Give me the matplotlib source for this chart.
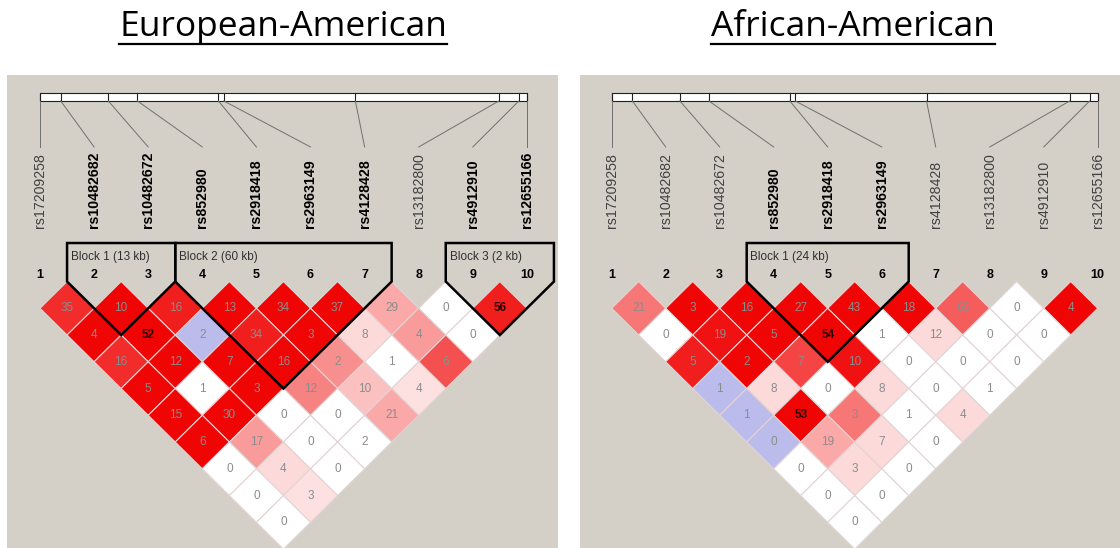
import numpy as np
import matplotlib.pyplot as plt
from matplotlib.patches import Polygon, Rectangle
from matplotlib.lines import Line2D

plt.rcParams['font.family'] = ['Liberation Sans', 'DejaVu Sans']

# SNPs and their map positions (kb)
snps = ["rs17209258", "rs10482682", "rs10482672", "rs852980", "rs2918418",
        "rs2963149", "rs4128428", "rs13182800", "rs4912910", "rs12655166"]
snp_kb = [0, 5.7, 18.8, 26.8, 49.1, 50.6, 86.8, 126.3, 131.8, 134.0]

# European-American: r2 x100 per diagonal row (row 1 = adjacent pairs)
ea_r2 = [[35, 10, 16, 13, 34, 37, 29, 0, 56],
         [4, 52, 2, 34, 3, 8, 4, 0],
         [16, 12, 7, 16, 2, 1, 6],
         [5, 1, 3, 12, 10, 4],
         [15, 30, 0, 0, 21],
         [6, 17, 0, 2],
         [0, 4, 0],
         [0, 3],
         [0]]
# colour shade (D' strength), -1 = D'=1 with low LOD (blue)
ea_shade = [[0.85, 1, 0.9, 1, 1, 1, 0.35, 0, 0.9],
            [1, 1, -1, 0.9, 1, 0.15, 0.4, 0],
            [0.85, 1, 1, 1, 0.45, 0, 0.7],
            [1, 0, 1, 0.5, 0.25, 0.12],
            [1, 1, 0, 0, 0.35],
            [1, 0.4, 0, 0],
            [0, 0.15, 0],
            [0, 0.12],
            [0]]
ea_bold = [2, 3, 4, 5, 6, 7, 9, 10]
ea_dark = [(2, 4), (9, 10)]
ea_blocks = [(2, 3, "Block 1 (13 kb)"), (4, 7, "Block 2 (60 kb)"), (9, 10, "Block 3 (2 kb)")]

# African-American
aa_r2 = [[21, 3, 16, 27, 43, 18, 66, 0, 4],
         [0, 19, 5, 54, 1, 12, 0, 0],
         [5, 2, 7, 10, 0, 0, 0],
         [1, 8, 0, 8, 0, 1],
         [1, 53, 3, 1, 4],
         [0, 19, 7, 0],
         [0, 3, 0],
         [0, 0],
         [0]]
aa_shade = [[0.55, 1, 1, 1, 1, 1, 0.65, 0, 1],
            [0, 0.95, 1, 1, 0, 0.15, 0, 0],
            [0.9, 1, 0.75, 0.95, 0, 0, 0],
            [-1, 0.15, 0, 0.15, 0, 0],
            [-1, 1, 0.55, 0, 0.15],
            [-1, 0.35, 0.15, 0],
            [0, 0.15, 0],
            [0, 0],
            [0]]
aa_bold = [4, 5, 6]
aa_dark = [(4, 6), (2, 7)]
aa_blocks = [(4, 6, "Block 1 (24 kb)")]

bg = "#d4d0c8"
red = np.array([0.94, 0.02, 0.02])
blue = "#bcbcec"


def cell_color(s):
    if s < 0:
        return blue
    return tuple(1 - s * (1 - red))


def draw_panel(ax, r2, shade, bold, dark, blocks, xlim):
    n = len(snps)
    ax.set_facecolor(bg)
    ax.set_xlim(xlim)
    ax.set_ylim(9.96, -7.72)
    ax.set_xticks([])
    ax.set_yticks([])
    for s in ax.spines.values():
        s.set_visible(False)

    # marker map bar
    bar_top, bar_bot = -7.05, -6.75
    ax.add_patch(Rectangle((1, bar_top), n - 1, bar_bot - bar_top,
                           facecolor="white", edgecolor="#202020", lw=0.8))
    for k in range(n):
        xk = 1 + (n - 1) * snp_kb[k] / snp_kb[-1]
        ax.plot([xk, xk], [bar_top, bar_bot], color="#202020", lw=0.8)
        ax.plot([xk, k + 1], [bar_bot, -5.03], color="#707070", lw=0.7)
        is_bold = (k + 1) in bold
        ax.text(k + 1, -2.0, snps[k], rotation=90, ha="center", va="bottom",
                fontsize=10.2, fontweight="bold" if is_bold else "normal",
                color="black" if is_bold else "#404040")
        ax.text(k + 1, -0.245, str(k + 1), ha="center", va="center",
                fontsize=9, fontweight="bold")

    # LD diamonds
    for d in range(1, n):
        for i in range(1, n - d + 1):
            j = i + d
            cx, cy = (i + j) / 2, d
            verts = [(cx - 0.5, cy), (cx, cy - 1), (cx + 0.5, cy), (cx, cy + 1)]
            ax.add_patch(Polygon(verts, closed=True,
                                 facecolor=cell_color(shade[d - 1][i - 1]),
                                 edgecolor="#e2d4d4", lw=0.8))
            if (i, j) in dark:
                ax.text(cx, cy, str(r2[d - 1][i - 1]), ha="center", va="center",
                        fontsize=8.5, fontweight="bold", color="#2a0000")
            else:
                ax.text(cx, cy, str(r2[d - 1][i - 1]), ha="center", va="center",
                        fontsize=8.5, color="#8c8c8c")

    # haplotype block outlines
    top = -1.44
    for first, last, label in blocks:
        x0, x1 = first - 0.5, last + 0.5
        apex = ((first + last) / 2, last - first + 1)
        ax.add_patch(Polygon([(x0, top), (x0, 0), apex, (x1, 0), (x1, top)],
                             closed=True, fill=False, edgecolor="black", lw=1.8))
        ax.text(x0 + 0.07, top + 0.52, label, ha="left", va="center",
                fontsize=8.5, color="#303030")


fig = plt.figure(figsize=(11.2, 5.48), dpi=100)
fig.patch.set_facecolor("white")

ax1 = fig.add_axes([7 / 1120, 0, 551 / 1120, 473 / 548])
ax2 = fig.add_axes([580 / 1120, 0, 540 / 1120, 473 / 548])

draw_panel(ax1, ea_r2, ea_shade, ea_bold, ea_dark, ea_blocks, (0.39, 10.575))
draw_panel(ax2, aa_r2, aa_shade, aa_bold, aa_dark, aa_blocks, (0.413, 10.413))

# underlined titles
titles = []
titles.append(fig.text(283 / 1120, 1 - 36 / 548, "European-American", ha="center",
                       va="baseline", fontsize=25.5, family=["Open Sans", "DejaVu Sans"]))
titles.append(fig.text(853 / 1120, 1 - 36 / 548, "African-American", ha="center",
                       va="baseline", fontsize=25.5, family=["Open Sans", "DejaVu Sans"]))
fig.canvas.draw()
r = fig.canvas.get_renderer()
for t in titles:
    bb = t.get_window_extent(r)
    y = 1 - 43.5 / 548
    fig.add_artist(Line2D([bb.x0 / 1120, bb.x1 / 1120], [y, y], color="black", lw=1.6))

plt.savefig("out.png", dpi=100)
